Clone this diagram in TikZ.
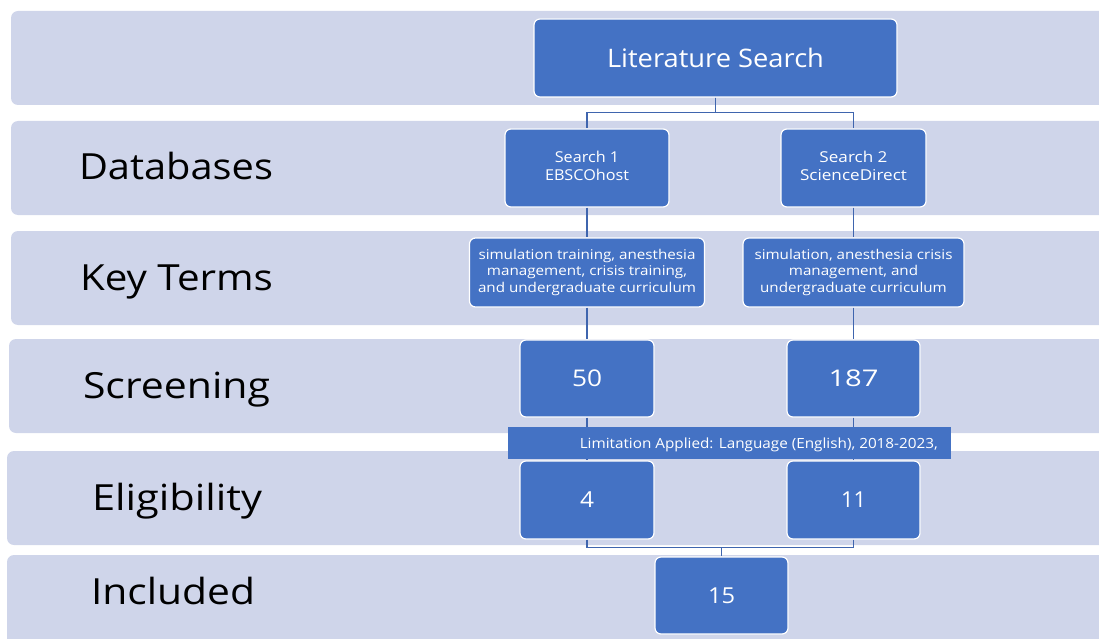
\documentclass[tikz,border=0pt]{standalone}
\usepackage{fontspec}
\usepackage{graphicx}
\setmainfont{Open Sans}
\definecolor{band}{HTML}{CFD5EA}
\definecolor{boxblue}{HTML}{4472C4}
\definecolor{linkblue}{HTML}{3F65AE}
\newlength\fitwd
\newcommand\fitw[2]{\settowidth\fitwd{#2}\pgfmathsetmacro\fitratio{#1/\fitwd}\scalebox{\fitratio}[1]{#2}}
\newcommand\lines[1]{\begin{tabular}{@{}c@{}}#1\end{tabular}}
\begin{document}
\begin{tikzpicture}[x=1pt,y=-1pt,
  bandrect/.style={fill=band,draw=none,rounded corners=7pt},
  bandlabel/.style={font=\fontsize{36}{40}\selectfont,text=black,inner sep=0pt,anchor=base},
  bluebox/.style={fill=boxblue,draw=white,line width=1.2pt,rounded corners=6pt,text=white,align=center,inner sep=2pt},
  link/.style={draw=linkblue,line width=1.2pt}]
\useasboundingbox (0,0) rectangle (1099,639);
\clip (0,0) rectangle (1099,639);
% bands
\path[bandrect] (11,11) rectangle (1115,105);
\path[bandrect] (11,121) rectangle (1115,215);
\path[bandrect] (11,231) rectangle (1115,325);
\path[bandrect] (9,339) rectangle (1115,433);
\path[bandrect] (7,451) rectangle (1115,545);
\path[bandrect] (7,555) rectangle (1115,660);
% labels
\node[bandlabel] (ldb) at (176,179.5) {\fitw{194}{Databases}};
\node[bandlabel] (lkt) at (176.5,290) {\fitw{193}{Key Terms}};
\node[bandlabel] (lsc) at (176.5,398.5) {\fitw{187}{Screening}};
\node[bandlabel] (lel) at (177,510.5) {\fitw{170}{Eligibility}};
\node[bandlabel] (lin) at (173,604.5) {\fitw{164}{Included}};
% boxes
\node[bluebox,minimum width=363pt,minimum height=78pt,font=\fontsize{25.5}{29}\selectfont] (lit) at (715.5,58) {\fitw{217}{Literature Search}};
\node[bluebox,minimum width=164pt,minimum height=78pt,font=\fontsize{15}{18.3}\selectfont] (s1) at (587,168) {\fitw{84}{\lines{Search 1\\EBSCOhost}}};
\node[bluebox,minimum width=145pt,minimum height=78pt,font=\fontsize{15}{18.3}\selectfont] (s2) at (853.5,168) {\fitw{107}{\lines{Search 2\\ScienceDirect}}};
\node[bluebox,minimum width=235pt,minimum height=69pt,font=\fontsize{13.5}{16.8}\selectfont] (k1) at (587,272.5) {\fitw{218}{\lines{simulation training, anesthesia\\management, crisis training,\\and undergraduate curriculum}}};
\node[bluebox,minimum width=221pt,minimum height=69pt,font=\fontsize{13.5}{16.8}\selectfont] (k2) at (853.5,272.5) {\fitw{198}{\lines{simulation, anesthesia crisis\\management, and\\undergraduate curriculum}}};
\node[bluebox,minimum width=134pt,minimum height=77pt,font=\fontsize{23}{27}\selectfont] (n50) at (587,378.5) {\fitw{30}{50}};
\node[bluebox,minimum width=133pt,minimum height=77pt,font=\fontsize{23}{27}\selectfont] (n187) at (853.5,378.5) {\fitw{50}{187}};
\node[bluebox,minimum width=134pt,minimum height=78pt,font=\fontsize{22}{26}\selectfont] (n4) at (587,500) {\fitw{14}{4}};
\node[bluebox,minimum width=133pt,minimum height=78pt,font=\fontsize{22}{26}\selectfont] (n11) at (853.5,500) {\fitw{25}{11}};
\node[bluebox,minimum width=133pt,minimum height=77pt,font=\fontsize{22}{26}\selectfont] (n15) at (721.5,595.5) {\fitw{27}{15}};
% connectors
\draw[link] (lit.south) -- ++(0,15) -| (s1.north);
\draw[link] (lit.south) -- ++(0,15) -| (s2.north);
\draw[link] (s1.south) -- (k1.north);
\draw[link] (s2.south) -- (k2.north);
\draw[link] (k1.south) -- (n50.north);
\draw[link] (k2.south) -- (n187.north);
\draw[link] (n50.south) -- (n4.north);
\draw[link] (n187.south) -- (n11.north);
\draw[link] (n4.south) -- ++(0,8) -| (n15.north);
\draw[link] (n11.south) -- ++(0,8) -| (n15.north);
% limitation bar
\node[fill=boxblue,draw=none,minimum width=443pt,minimum height=32pt,inner sep=0pt,anchor=north west] (lim) at (508,427) {};
\node[text=white,font=\fontsize{14}{17}\selectfont,anchor=base east,inner sep=0pt] (limtext) at (938,448) {\fitw{358}{Limitation Applied: Language (English), 2018-2023,}};
\end{tikzpicture}
\end{document}
